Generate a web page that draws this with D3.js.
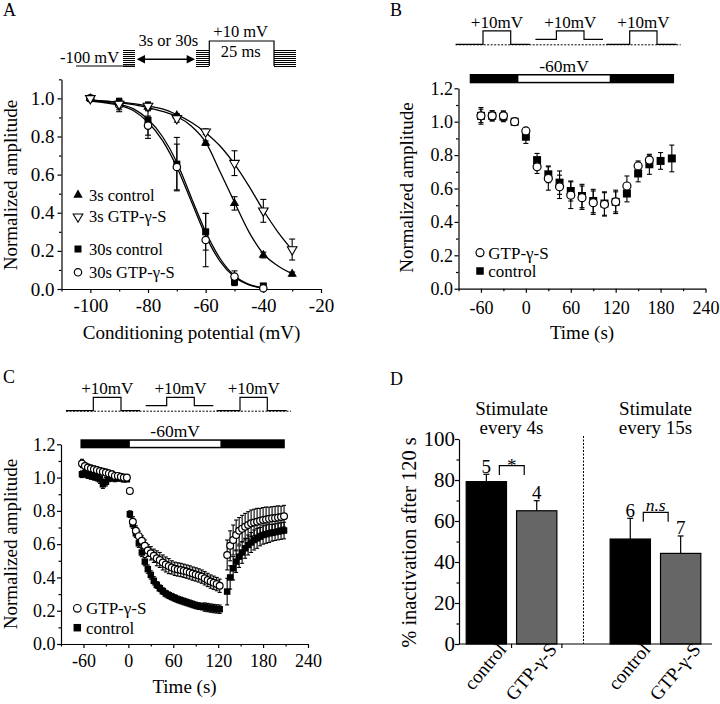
<!DOCTYPE html>
<html><head><meta charset="utf-8">
<script src="https://cdn.jsdelivr.net/npm/d3@7"></script>
<style>
body{margin:0;background:#fff;}
svg{display:block;}
</style></head><body>
<svg id="chart" width="720" height="704"></svg>
<script>
// ================= DATA =================
// Panel A : steady-state inactivation
const aPotential3s = [-100,-90,-80,-70,-60,-50,-40,-30];
const a3sControl    = [1.0,0.975,0.955,0.91,0.765,0.449,0.178,0.079];
const a3sControlErr = [0,0.02,0.02,0.01,0.012,0.035,0.015,0.01];
const a3sGtp        = [1.0,0.97,0.96,0.895,0.825,0.66,0.41,0.207];
const a3sGtpErr     = [0,0.03,0.02,0.02,0.015,0.065,0.06,0.055];
const aPotential30s = [-100,-90,-80,-70,-60,-50,-40];
const a30sControl    = [1.0,0.975,0.885,0.655,0.30,0.038,0.016];
const a30sControlErr = [0,0.02,0.095,0.14,0.096,0.02,0.008];
const a30sGtp        = [1.0,0.965,0.857,0.64,0.257,0.065,0.004];
const a30sGtpErr     = [0,0.035,0.05,0.12,0.14,0.03,0.005];
// fitted curves
const aFitV3s = [-100,-95,-90,-85,-80,-75,-70,-65,-60,-55,-50,-45,-40,-35,-30];
const aFit3sControl = [0.99,0.985,0.978,0.967,0.952,0.932,0.905,0.855,0.77,0.615,0.455,0.30,0.185,0.122,0.08];
const aFit3sGtp     = [0.99,0.986,0.98,0.972,0.96,0.945,0.915,0.875,0.82,0.75,0.655,0.54,0.413,0.30,0.205];
const aFitV30s = [-100,-95,-90,-85,-80,-75,-70,-65,-60,-55,-50,-45,-40];
const aFit30sControl = [0.985,0.98,0.968,0.945,0.89,0.80,0.665,0.48,0.30,0.16,0.07,0.025,0.005];
const aFit30sGtp     = [0.985,0.977,0.963,0.935,0.875,0.78,0.64,0.46,0.28,0.145,0.063,0.022,0.004];
const aLegend = ['3s control','3s GTP-\u03b3-S','30s control','30s GTP-\u03b3-S'];
const aXTicks = [-100,-80,-60,-40,-20];
const aXMinor = [-110,-90,-70,-50,-30];
const aYTicks = [0,0.2,0.4,0.6,0.8,1.0];
const aYMinor = [0.1,0.3,0.5,0.7,0.9,1.1];

// Panel B : stimulate every 15 s
const bTime    = [-60,-45,-30,-15,0,15,30,45,60,75,90,105,120,135,150,165,180,195];
const bGtp     = [1.035,1.035,1.035,1.0,0.945,0.73,0.66,0.61,0.56,0.545,0.515,0.505,0.52,0.615,0.735,0.77,null,null];
const bGtpErr  = [0.05,0.03,0.03,0,0.02,0.04,0.07,0.07,0.08,0.07,0.07,0.07,0.07,0.06,0.03,0.03,null,null];
const bCtrl    = [1.035,1.035,1.03,1.0,0.91,0.77,0.685,0.635,0.585,0.555,0.525,0.51,0.52,0.57,0.69,0.745,0.765,0.78];
const bCtrlErr = [0.04,0.03,0.03,0,0.04,0.04,0.05,0.07,0.06,0.07,0.07,0.07,0.06,0.05,0.05,0.06,0.05,0.08];
const bStim = [-75,-10,112,198];   // black / white(-60mV) / black segments (s)

// Panel C : stimulate every 4 s
const cTime = [-62,-58,-54,-50,-46,-42,-38,-34,-30,-26,-22,-18,-14,-10,-6,-2,
  2,6,10,14,18,22,26,30,34,38,42,46,50,54,58,62,66,70,74,78,82,86,90,94,98,102,106,110,114,118,122,
  132,136,140,144,148,152,156,160,164,168,172,176,180,184,188,192,196,200,204,208];
const cGtp = [1.085,1.07,1.06,1.055,1.05,1.045,1.04,1.035,1.03,1.025,1.02,1.01,1.01,1.005,1.0,1.0,
  0.92,0.735,0.68,0.648,0.62,0.59,0.562,0.545,0.53,0.515,0.505,0.49,0.478,0.468,0.46,0.452,0.448,0.445,0.44,0.435,0.43,0.423,0.418,0.412,0.405,0.395,0.385,0.375,0.368,0.36,0.35,
  0.535,0.59,0.625,0.655,0.68,0.693,0.705,0.715,0.725,0.73,0.735,0.74,0.745,0.748,0.752,0.755,0.757,0.76,0.763,0.768];
const cGtpErr = [0.025,0.02,0.02,0.02,0.02,0.02,0.02,0.02,0.02,0.02,0.02,0.02,0.015,0.015,0.015,0.01,
  0.01,0.03,0.03,0.03,0.03,0.035,0.035,0.04,0.04,0.045,0.045,0.045,0.045,0.045,0.04,0.04,0.04,0.04,0.04,0.04,0.04,0.04,0.04,0.04,0.04,0.04,0.04,0.04,0.04,0.04,0.04,
  0.09,0.09,0.09,0.09,0.08,0.08,0.08,0.08,0.08,0.08,0.08,0.075,0.075,0.075,0.07,0.07,0.07,0.07,0.065,0.065];
const cCtrl = [1.02,1.025,1.015,1.01,1.005,1.0,0.99,0.96,0.975,0.995,1.0,0.995,1.0,0.995,0.99,0.99,
  0.78,0.72,0.665,0.605,0.55,0.495,0.45,0.415,0.38,0.355,0.335,0.318,0.303,0.293,0.284,0.276,0.268,0.262,0.256,0.25,0.244,0.238,0.232,0.228,0.225,0.222,0.219,0.216,0.213,0.211,0.209,
  0.315,0.40,0.455,0.495,0.525,0.55,0.575,0.595,0.61,0.625,0.635,0.645,0.655,0.66,0.665,0.668,0.672,0.676,0.679,0.682];
const cCtrlErr = [0.02,0.02,0.02,0.02,0.02,0.02,0.025,0.025,0.025,0.02,0.02,0.02,0.02,0.015,0.015,0.01,
  0.02,0.025,0.025,0.025,0.025,0.025,0.025,0.025,0.025,0.02,0.02,0.02,0.02,0.02,0.02,0.02,0.02,0.02,0.02,0.02,0.02,0.02,0.02,0.02,0.02,0.025,0.025,0.025,0.025,0.025,0.025,
  0.08,0.07,0.07,0.065,0.065,0.065,0.06,0.06,0.06,0.06,0.06,0.055,0.055,0.055,0.055,0.05,0.05,0.05,0.05,0.05];
const cStim = [-64,2,123,209];
const tXTicks = [-60,0,60,120,180,240];
const tXMinor = [-90,-30,30,90,150,210];
const tYTicks = [0,0.2,0.4,0.6,0.8,1.0,1.2];
const tYMinor = [0.1,0.3,0.5,0.7,0.9,1.1];

// Panel D : % inactivation after 120 s
const dGroups = ['every 4s','every 15s'];
const dConds  = ['control','GTP-\u03b3-S'];
const dValues = [[79.2,65.0],[51.2,44.2]];
const dErr    = [[3.6,4.9],[10.1,8.5]];
const dN      = [[5,4],[6,7]];
const dSigLabel  = ['*','n.s'];
const dSigTop    = [87,64.2];
const dSigBottom = [82.5,59.6];
const dYTicks = [0,20,40,60,80,100];
const dYMinor = [10,30,50,70,90];
const dColors = ['#000000','#666666'];

// ================= DRAWING =================
const FS = "'Liberation Serif','Times New Roman',Times,serif";
const svg = d3.select('#chart');

function T(x,y,s,o={}){
  const t = svg.append('text')
    .attr('transform',`translate(${x},${y})`+(o.rot?` rotate(${o.rot})`:''))
    .attr('text-anchor',o.anchor||'start')
    .attr('font-family',FS).attr('font-size',o.fs||18).attr('fill','#000')
    .text(s);
  if(o.italic) t.attr('font-style','italic');
  return t;
}
function styleAxis(g,fs){
  g.attr('font-family',FS).attr('font-size',fs);
  g.selectAll('path,line').attr('stroke','#000').attr('stroke-width',1.2);
  g.selectAll('text').attr('fill','#000');
}
const fmtInt = d => String(d);
const fmt1 = d3.format('.1f');
function drawAxes(xs,ys,xMaj,xMin,yMaj,yMin,xFmt,yFmt,fsX,fsY,xPad,yPad){
  const yb = ys.range()[0];
  const xb = xs.range()[0];
  const gx = svg.append('g').attr('transform',`translate(0,${yb})`)
    .call(d3.axisBottom(xs).tickValues(xMaj).tickFormat(xFmt).tickSizeInner(4).tickSizeOuter(0).tickPadding(xPad));
  styleAxis(gx,fsX);
  const gxm = svg.append('g').attr('transform',`translate(0,${yb})`)
    .call(d3.axisBottom(xs).tickValues(xMin).tickFormat('').tickSizeInner(2.5).tickSizeOuter(0));
  gxm.select('.domain').remove(); styleAxis(gxm,fsX);
  const gy = svg.append('g').attr('transform',`translate(${xb},0)`)
    .call(d3.axisLeft(ys).tickValues(yMaj).tickFormat(yFmt).tickSizeInner(4).tickSizeOuter(0).tickPadding(yPad));
  styleAxis(gy,fsY);
  const gym = svg.append('g').attr('transform',`translate(${xb},0)`)
    .call(d3.axisLeft(ys).tickValues(yMin).tickFormat('').tickSizeInner(2.5).tickSizeOuter(0));
  gym.select('.domain').remove(); styleAxis(gym,fsY);
}
function errBars(g,xs,ys,X,Y,E,cap){
  X.forEach((x,i)=>{
    if(Y[i]==null||!E[i]) return;
    const px = xs(x), y1 = ys(Y[i]+E[i]), y2 = ys(Y[i]-E[i]);
    g.append('line').attr('x1',px).attr('x2',px).attr('y1',y1).attr('y2',y2);
    g.append('line').attr('x1',px-cap).attr('x2',px+cap).attr('y1',y1).attr('y2',y1);
    g.append('line').attr('x1',px-cap).attr('x2',px+cap).attr('y1',y2).attr('y2',y2);
  });
  g.attr('stroke','#000').attr('stroke-width',1.1);
}
function marker(g,type,px,py,sz){
  if(type==='circle'){
    g.append('circle').attr('cx',px).attr('cy',py).attr('r',sz)
      .attr('fill','#fff').attr('stroke','#000').attr('stroke-width',1.2);
  } else if(type==='square'){
    g.append('path').attr('d',d3.symbol(d3.symbolSquare,sz*sz)())
      .attr('transform',`translate(${px},${py})`).attr('fill','#000');
  } else if(type==='triUp'){
    g.append('path').attr('d',d3.symbol(d3.symbolTriangle,sz)())
      .attr('transform',`translate(${px},${py})`).attr('fill','#000');
  } else if(type==='triDown'){
    g.append('path').attr('d',d3.symbol(d3.symbolTriangle,sz)())
      .attr('transform',`translate(${px},${py}) rotate(180)`)
      .attr('fill','#fff').attr('stroke','#000').attr('stroke-width',1.1);
  }
}
function markers(xs,ys,X,Y,type,sz){
  const g = svg.append('g');
  X.forEach((x,i)=>{ if(Y[i]!=null) marker(g,type,xs(x),ys(Y[i]),sz); });
}

// ---------- Panel A ----------
const xA = d3.scaleLinear([-110,-20],[61.5,321]);
const yA = d3.scaleLinear([0,1.1],[289,79.3]);
drawAxes(xA,yA,aXTicks,aXMinor,aYTicks,aYMinor,fmtInt,fmt1,19,19,6,3);
T(191.5,339,'Conditioning potential (mV)',{fs:19,anchor:'middle'});
T(17,185,'Normalized amplitude',{fs:19,anchor:'middle',rot:-90});
T(3,16,'A',{fs:18});
const lineA = (V,Y)=> d3.line().x((d,i)=>xA(V[i])).y((d,i)=>yA(Y[i])).curve(d3.curveMonotoneX)(Y);
[[aFitV3s,aFit3sControl],[aFitV3s,aFit3sGtp],[aFitV30s,aFit30sControl],[aFitV30s,aFit30sGtp]].forEach(([V,Y])=>{
  svg.append('path').attr('d',lineA(V,Y)).attr('fill','none').attr('stroke','#000').attr('stroke-width',1.3);
});
errBars(svg.append('g'),xA,yA,aPotential3s,a3sControl,a3sControlErr,3);
errBars(svg.append('g'),xA,yA,aPotential3s,a3sGtp,a3sGtpErr,3);
errBars(svg.append('g'),xA,yA,aPotential30s,a30sControl,a30sControlErr,3);
errBars(svg.append('g'),xA,yA,aPotential30s,a30sGtp,a30sGtpErr,3);
markers(xA,yA,aPotential30s,a30sControl,'square',7);
markers(xA,yA,aPotential30s,a30sGtp,'circle',3.7);
markers(xA,yA,aPotential3s,a3sControl,'triUp',38);
markers(xA,yA,aPotential3s,a3sGtp,'triDown',40);
// legend A
const aLegTypes = [['triUp',38],['triDown',40],['square',7],['circle',3.7]];
const aLegY = [195,216.7,249,272.3];
const gLegA = svg.append('g');
aLegend.forEach((s,i)=>{
  marker(gLegA,aLegTypes[i][0],78,aLegY[i],aLegTypes[i][1]);
  T(89,aLegY[i]+5.5,s,{fs:16.5});
});
// protocol schematic A
(function(){
  const g = svg.append('g').attr('stroke','#000').attr('stroke-width',1.2).attr('fill','none');
  g.append('line').attr('x1',76).attr('x2',135).attr('y1',66).attr('y2',66);
  const grate = (x1,x2)=>{ for(let k=0;k<9;k++){ g.append('line').attr('x1',x1).attr('x2',x2)
      .attr('y1',50.5+k*2).attr('y2',50.5+k*2).attr('stroke-width',1).attr('shape-rendering','crispEdges'); } };
  grate(123.3,135); grate(196,209.3); grate(274,295.7);
  g.append('path').attr('d','M209.3,66 V41 H274 V66');
  g.append('line').attr('x1',143).attr('x2',189).attr('y1',59.3).attr('y2',59.3).attr('stroke-width',1.6);
  svg.append('path').attr('d','M136.7,59.3 L145,55 L145,63.6 Z').attr('fill','#000');
  svg.append('path').attr('d','M195,59.3 L186.7,55 L186.7,63.6 Z').attr('fill','#000');
  T(60,63,'-100 mV',{fs:16.5});
  T(168.3,45.5,'3s or 30s',{fs:16.5,anchor:'middle'});
  T(240.7,36.5,'+10 mV',{fs:16.5,anchor:'middle'});
  T(240.7,56.5,'25 ms',{fs:16.5,anchor:'middle'});
})();

// pulse schematic (B & C)
function pulses(ox,oy){
  const g = svg.append('g').attr('transform',`translate(${ox},${oy})`)
    .attr('stroke','#000').attr('fill','none').attr('stroke-width',1.2);
  g.append('line').attr('x1',0).attr('x2',225).attr('y1',0.5).attr('y2',0.5)
    .attr('stroke-dasharray','2,1.5').attr('stroke-width',1);
  g.append('path').attr('d','M0,0 H27.3 V-13.4 H55 V0 H74');
  g.append('path').attr('d','M79.7,-5 H100.7 V-13.4 H128.3 V-5 H147.3');
  g.append('path').attr('d','M150.7,0 H174 V-13.4 H201.3 V0 H220.7');
  [41.2,114.5,187.7].forEach(cx=>T(ox+cx,oy-16.5,'+10mV',{fs:17,anchor:'middle'}));
}
function stimBar(xs,stim,y,h){
  svg.append('rect').attr('x',xs(stim[0])).attr('y',y).attr('width',xs(stim[3])-xs(stim[0])).attr('height',h).attr('fill','#000');
  svg.append('rect').attr('x',xs(stim[1])).attr('y',y+1.5).attr('width',xs(stim[2])-xs(stim[1])).attr('height',h-3)
    .attr('fill','#fff').attr('stroke','none');
  T((xs(stim[1])+xs(stim[2]))/2,y-2,'-60mV',{fs:17.5,anchor:'middle'});
}

// ---------- Panel B ----------
const xB = d3.scaleLinear([-90,240],[458.5,705.5]);
const yB = d3.scaleLinear([0,1.2],[288.7,88.3]);
drawAxes(xB,yB,tXTicks,tXMinor,tYTicks,tYMinor,fmtInt,fmt1,18,18,9,1.5);
T(582,339,'Time (s)',{fs:19,anchor:'middle'});
T(412.5,187.5,'Normalized amplitude',{fs:19,anchor:'middle',rot:-90});
T(390,16,'B',{fs:18});
pulses(455.7,44.3);
stimBar(xB,bStim,74,9.3);
errBars(svg.append('g'),xB,yB,bTime,bCtrl,bCtrlErr,2.5);
errBars(svg.append('g'),xB,yB,bTime,bGtp,bGtpErr,2.5);
markers(xB,yB,bTime,bCtrl,'square',8);
markers(xB,yB,bTime,bGtp,'circle',4);
const gLegB = svg.append('g');
marker(gLegB,'circle',480,252.7,4); T(488.3,258.5,'GTP-\u03b3-S',{fs:17});
marker(gLegB,'square',480,271,7.5); T(488.3,277,'control',{fs:17});

// ---------- Panel C ----------
const xC = d3.scaleLinear([-90,240],[61,308]);
const yC = d3.scaleLinear([0,1.2],[644,444.3]);
drawAxes(xC,yC,tXTicks,tXMinor,tYTicks,tYMinor,fmtInt,fmt1,18,18,6,1.5);
T(184.5,692.5,'Time (s)',{fs:19,anchor:'middle'});
T(16.5,544,'Normalized amplitude',{fs:19,anchor:'middle',rot:-90});
T(3,383,'C',{fs:18});
pulses(66,410.7);
stimBar(xC,cStim,439.3,9);
errBars(svg.append('g'),xC,yC,cTime,cCtrl,cCtrlErr,2);
markers(xC,yC,cTime,cCtrl,'square',6.5);
errBars(svg.append('g'),xC,yC,cTime,cGtp,cGtpErr,2);
markers(xC,yC,cTime,cGtp,'circle',3.4);
const gLegC = svg.append('g');
marker(gLegC,'circle',77.3,608.3,3.8); T(86,614,'GTP-\u03b3-S',{fs:17});
marker(gLegC,'square',77.3,627.7,7.5); T(86,633.5,'control',{fs:17});

// ---------- Panel D ----------
const yD = d3.scaleLinear([0,100],[644,439]);
const x0 = d3.scaleBand(dGroups,[459,708]).paddingInner(0.37).paddingOuter(0.05);
const xi = d3.scaleBand(dConds,[0,x0.bandwidth()]).paddingInner(0.2).paddingOuter(0);
T(390,385,'D',{fs:18});
// y axis
const gyD = svg.append('g').attr('transform','translate(459,0)')
  .call(d3.axisLeft(yD).tickValues(dYTicks).tickFormat(fmtInt).tickSizeInner(4).tickSizeOuter(0).tickPadding(0));
styleAxis(gyD,21);
const gyDm = svg.append('g').attr('transform','translate(459,0)')
  .call(d3.axisLeft(yD).tickValues(dYMinor).tickFormat('').tickSizeInner(2.5).tickSizeOuter(0));
gyDm.select('.domain').remove(); styleAxis(gyDm,21);
T(416,542.5,'% inactivation after 120 s',{fs:20.5,anchor:'middle',rot:-90});
// bars
dGroups.forEach((grp,gi)=>{
  const gx = x0(grp);
  dConds.forEach((c,ci)=>{
    const bx = gx + xi(c), bw = xi.bandwidth(), cx = bx + bw/2;
    const v = dValues[gi][ci], e = dErr[gi][ci];
    svg.append('line').attr('x1',cx).attr('x2',cx).attr('y1',yD(v)).attr('y2',yD(v+e)).attr('stroke','#000').attr('stroke-width',1.2);
    svg.append('line').attr('x1',cx-3).attr('x2',cx+3).attr('y1',yD(v+e)).attr('y2',yD(v+e)).attr('stroke','#000').attr('stroke-width',1.2);
    svg.append('rect').attr('x',bx).attr('y',yD(v)).attr('width',bw).attr('height',yD(0)-yD(v))
      .attr('fill',dColors[ci]).attr('stroke','#000').attr('stroke-width',1.2);
    T(cx,yD(v+e)-1.5,String(dN[gi][ci]),{fs:19,anchor:'middle'});
    T(cx+21,650,c,{fs:19,anchor:'end',rot:-50});
  });
  // significance bracket
  const c1 = gx + xi(dConds[0]) + xi.bandwidth()/2 + 13;
  const c2 = gx + xi(dConds[1]) + xi.bandwidth()/2 - 12.5;
  svg.append('path').attr('d',`M${c1},${yD(dSigBottom[gi])} V${yD(dSigTop[gi])} H${c2} V${yD(dSigBottom[gi])}`)
    .attr('fill','none').attr('stroke','#000').attr('stroke-width',1.2);
  if(dSigLabel[gi]==='*') T((c1+c2)/2,yD(dSigTop[gi])+6,'*',{fs:19,anchor:'middle'});
  else T((c1+c2)/2,yD(dSigTop[gi])-1.5,dSigLabel[gi],{fs:17.5,anchor:'middle',italic:true});
  // titles
  const mid = gx + x0.bandwidth()/2;
  T(mid,415,'Stimulate',{fs:19,anchor:'middle'});
  T(mid,434,grp,{fs:19,anchor:'middle'});
});
// x axis
const xEnd = x0.range()[1]+4;
svg.append('line').attr('x1',459).attr('x2',xEnd).attr('y1',644).attr('y2',644).attr('stroke','#000').attr('stroke-width',1.2);
const gap = (xi.step()-xi.bandwidth())/2;
[x0(dGroups[0])+xi(dConds[0])+xi.bandwidth()+gap, x0(dGroups[0])+x0.bandwidth()+gap].forEach(tx=>{
  svg.append('line').attr('x1',tx).attr('x2',tx).attr('y1',644).attr('y2',648).attr('stroke','#000').attr('stroke-width',1.2);
});
// dashed divider
const divX = (x0(dGroups[0])+x0.bandwidth()+x0(dGroups[1]))/2;
svg.append('line').attr('x1',divX).attr('x2',divX).attr('y1',436).attr('y2',644)
  .attr('stroke','#000').attr('stroke-width',1).attr('stroke-dasharray','2,1.5');
</script>
</body></html>
